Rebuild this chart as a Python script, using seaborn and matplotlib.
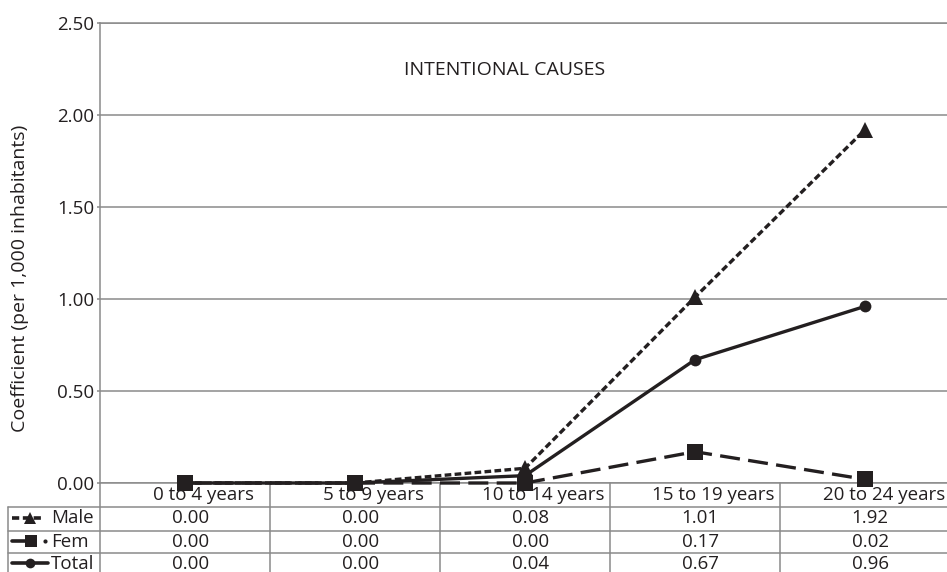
import numpy as np
import seaborn as sns
import matplotlib.pyplot as plt
from matplotlib import transforms

sns.set_theme(style="white")
plt.rcParams['font.family'] = ['Open Sans', 'DejaVu Sans']

# data
ages = ['0 to 4 years', '5 to 9 years', '10 to 14 years', '15 to 19 years', '20 to 24 years']
male = [0.00, 0.00, 0.08, 1.01, 1.92]
fem = [0.00, 0.00, 0.00, 0.17, 0.02]
total = [0.00, 0.00, 0.04, 0.67, 0.96]
series_names = ['Male', 'Fem', 'Total']
yticks = [0.0, 0.5, 1.0, 1.5, 2.0, 2.5]

ink = '#231f20'
grey = '#8a8a8a'
W, H = 947, 572
fs = 13.5

fig = plt.figure(figsize=(W / 100, H / 100), dpi=100)
# pixel overlay for the data table under the plot
tab = fig.add_axes([0, 0, 1, 1], zorder=0)
tab.set_xlim(0, W)
tab.set_ylim(H, 0)
tab.axis('off')

ax = fig.add_axes([100 / W, 1 - 483 / H, 850 / W, 460 / H], zorder=1)
ax.set_facecolor('none')

x = np.arange(len(ages))
series = [male, fem, total]
looks = [('^', (0, (2, 1)), 12), ('s', (0, (6, 2.5)), 11), ('o', '-', 8.5)]
for vals, (mk, ls, ms) in zip(series, looks):
    sns.lineplot(x=x, y=vals, ax=ax, color=ink, marker=mk, markersize=ms,
                 markeredgewidth=0, linestyle=ls, lw=2.4, clip_on=False, zorder=4)

ax.set_xlim(-0.5, len(ages) - 0.5)
ax.set_ylim(0, 2.5)
ax.set_xticks([])
ax.set_yticks(yticks)
ax.set_yticklabels([f'{v:.2f}' for v in yticks])
ax.tick_params(axis='y', left=True, length=2, width=1.1, color=grey, pad=2,
               labelsize=fs, labelcolor=ink)
ax.yaxis.grid(True, color=grey, lw=1.1)
for side in ['left', 'top', 'bottom']:
    ax.spines[side].set_color(grey)
    ax.spines[side].set_linewidth(1.1)
ax.spines['right'].set_visible(False)

ax.text(0.476, 0.898, 'INTENTIONAL CAUSES', transform=ax.transAxes,
        ha='center', va='center', fontsize=14, color=ink)
fig.text(20 / W, 1 - 278 / H, 'Coefficient (per 1,000 inhabitants)', rotation=90,
         ha='center', va='center', fontsize=14, color=ink)

# data table
trans = transforms.blended_transform_factory(ax.transData, tab.transData)
row_lines = [507, 531, 553]
row_base = [523, 547, 569]
row_mid = [518, 541, 563]
for yl in row_lines:
    tab.plot([8, W], [yl, yl], color=grey, lw=1.1)
tab.plot([8, 8], [507, H], color=grey, lw=1.1)
for xe in np.arange(-0.5, len(ages) - 0.5, 1.0):
    tab.plot([xe, xe], [483, H], color=grey, lw=1.1, transform=trans)

for i, age in enumerate(ages):
    tab.text(i + 0.11, 500, age, transform=trans, ha='center', va='baseline',
             fontsize=fs, color=ink)
for vals, yb in zip(series, row_base):
    for i, v in enumerate(vals):
        tab.text(i + 0.03, yb, f'{v:.2f}', transform=trans, ha='center',
                 va='baseline', fontsize=fs, color=ink)

# legend keys in the row labels
tab.plot([12, 43], [row_mid[0]] * 2, color=ink, lw=2.6, ls=(0, (2, 1)))
tab.plot([30], [row_mid[0]], marker='^', ms=9, color=ink, mew=0)
tab.plot([12, 28], [row_mid[1]] * 2, color=ink, lw=2.6)
tab.plot([31], [row_mid[1]], marker='s', ms=9, color=ink, mew=0)
tab.plot([45], [row_mid[1]], marker='o', ms=3, color=ink, mew=0)
tab.plot([12, 48], [row_mid[2]] * 2, color=ink, lw=2.6)
tab.plot([30], [row_mid[2]], marker='o', ms=7, color=ink, mew=0)
for name, yb in zip(series_names, row_base):
    tab.text(51, yb, name, ha='left', va='baseline', fontsize=fs, color=ink)

fig.savefig('out.png', dpi=100)
